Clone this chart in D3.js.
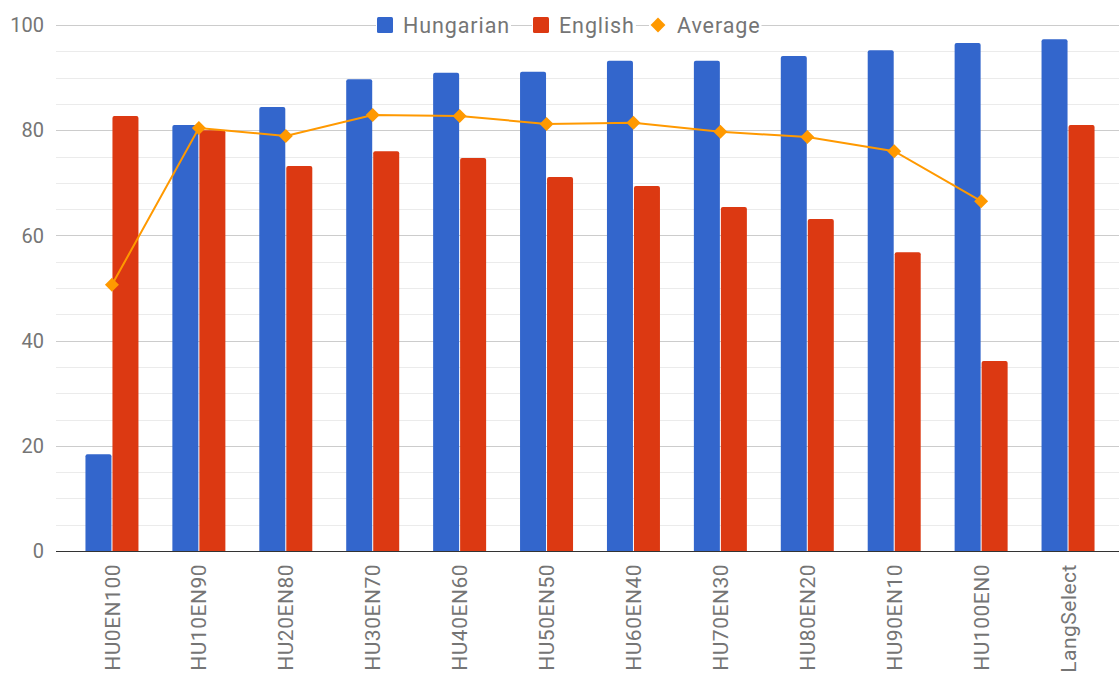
<!DOCTYPE html>
<html>
<head>
<meta charset="utf-8">
<script src="https://cdn.jsdelivr.net/npm/d3@7"></script>
<style>
  body { margin: 0; background: #fff; }
  text { font-family: Roboto, "Noto Sans", sans-serif; }
</style>
</head>
<body>
<svg id="chart" width="1119" height="675"></svg>
<script>
// data
var categories = ["HU0EN100", "HU10EN90", "HU20EN80", "HU30EN70", "HU40EN60", "HU50EN50",
    "HU60EN40", "HU70EN30", "HU80EN20", "HU90EN10", "HU100EN0", "LangSelect"];
var hungarian = [18.4, 81.0, 84.4, 89.7, 90.9, 91.1, 93.2, 93.2, 94.1, 95.2, 96.6, 97.3];
var english = [82.7, 80.0, 73.2, 76.0, 74.7, 71.1, 69.4, 65.4, 63.1, 56.8, 36.1, 81.0];
var average = [50.6, 80.4, 78.9, 82.9, 82.7, 81.2, 81.4, 79.7, 78.7, 76.0, 66.5, null];
var yTicks = [0, 20, 40, 60, 80, 100];

var seriesNames = ["Hungarian", "English"];
var colors = { Hungarian: "#3366cc", English: "#dc3912", Average: "#ff9900" };

var svg = d3.select("#chart");
var gridLeft = 56, gridRight = 1119;

var x = d3.scaleBand().domain(categories).range([68.5, 1111.5]);
var y = d3.scaleLinear().domain([0, 100]).range([551, 25]);

// grid lines, minor every 5
var grid = svg.append("g");
grid.selectAll("line")
    .data(d3.range(5, 101, 5))
    .enter().append("line")
    .attr("x1", gridLeft).attr("x2", gridRight)
    .attr("y1", d => Math.round(y(d)) + 0.5).attr("y2", d => Math.round(y(d)) + 0.5)
    .attr("stroke", d => d % 20 === 0 ? "#cccccc" : "#ebebeb")
    .attr("stroke-width", 1);

// y labels
svg.append("g").selectAll("text")
    .data(yTicks)
    .enter().append("text")
    .attr("x", 44)
    .attr("y", d => y(d))
    .attr("dy", "0.36em")
    .attr("text-anchor", "end")
    .attr("font-size", 20)
    .attr("fill", "#757575")
    .text(d => d);

// bars
var barW = 26, gap = 1;
var xs = d3.scaleBand().domain(seriesNames).range([-barW - gap / 2, barW + gap / 2]).paddingInner(gap / (barW + gap));

function topRounded(x0, y0, w, h, r) {
    r = Math.min(r, h);
    return "M" + x0 + "," + (y0 + h) + "V" + (y0 + r) + "Q" + x0 + "," + y0 + " " + (x0 + r) + "," + y0 +
        "H" + (x0 + w - r) + "Q" + (x0 + w) + "," + y0 + " " + (x0 + w) + "," + (y0 + r) + "V" + (y0 + h) + "Z";
}

var seriesData = { Hungarian: hungarian, English: english };
seriesNames.forEach(function (s) {
    svg.append("g").selectAll("path")
        .data(categories)
        .enter().append("path")
        .attr("fill", colors[s])
        .attr("d", function (c, i) {
            var cx = x(c) + x.bandwidth() / 2;
            var x0 = cx + xs(s);
            var top = y(seriesData[s][i]);
            return topRounded(x0, top, xs.bandwidth(), y(0) - top, 2);
        });
});

// baseline
svg.append("line")
    .attr("x1", gridLeft).attr("x2", gridRight)
    .attr("y1", 551.5).attr("y2", 551.5)
    .attr("stroke", "#333333").attr("stroke-width", 1);

// average line
var avgPoints = categories.map((c, i) => ({ c: c, v: average[i] })).filter(d => d.v !== null);
var line = d3.line()
    .x(d => x(d.c) + x.bandwidth() / 2)
    .y(d => y(d.v));
svg.append("path")
    .datum(avgPoints)
    .attr("fill", "none")
    .attr("stroke", colors.Average)
    .attr("stroke-width", 2)
    .attr("d", line);
var diamond = d3.symbol().type(d3.symbolDiamond2).size(125);
svg.append("g").selectAll("path")
    .data(avgPoints)
    .enter().append("path")
    .attr("transform", d => "translate(" + (x(d.c) + x.bandwidth() / 2) + "," + y(d.v) + ")")
    .attr("fill", colors.Average)
    .attr("d", diamond);

// x labels, rotated
svg.append("g").selectAll("text")
    .data(categories)
    .enter().append("text")
    .attr("transform", d => "translate(" + (x(d) + x.bandwidth() / 2) + ",564) rotate(-90)")
    .attr("dy", "0.36em")
    .attr("text-anchor", "end")
    .attr("font-size", 21)
    .attr("letter-spacing", 0.5)
    .attr("fill", "#757575")
    .text(d => d);

// legend
var legend = svg.append("g");
var legendItems = [
    { name: "Hungarian", x: 385, tx: 403, shape: "square" },
    { name: "English", x: 541, tx: 559, shape: "square" },
    { name: "Average", x: 658, tx: 677, shape: "diamond" }
];
legendItems.forEach(function (it) {
    var t = legend.append("text")
        .attr("x", it.tx).attr("y", 25)
        .attr("dy", "0.36em")
        .attr("font-size", 21.5)
        .attr("letter-spacing", 0.9)
        .attr("fill", "#757575")
        .text(it.name);
    var bb = t.node().getBBox();
    legend.insert("rect", "text")
        .attr("x", it.x - 9).attr("y", 14).attr("width", bb.x + bb.width - it.x + 10).attr("height", 22)
        .attr("fill", "#fff");
    if (it.shape === "square") {
        legend.append("rect")
            .attr("x", it.x - 8).attr("y", 17).attr("width", 16).attr("height", 16)
            .attr("rx", 1.5)
            .attr("fill", colors[it.name]);
    } else {
        legend.append("path")
            .attr("transform", "translate(" + it.x + ",25)")
            .attr("fill", colors[it.name])
            .attr("d", d3.symbol().type(d3.symbolDiamond2).size(140));
    }
});
</script>
</body>
</html>
